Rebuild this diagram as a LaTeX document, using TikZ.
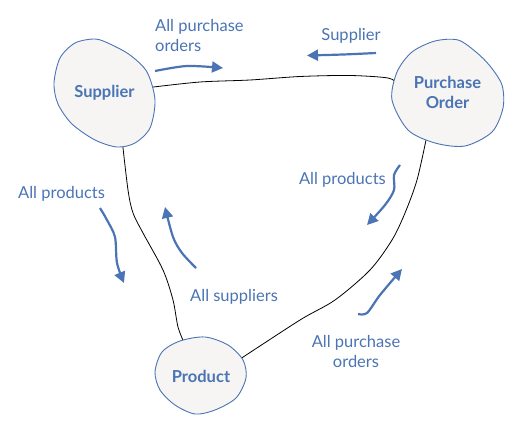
\documentclass[tikz,border=0pt]{standalone}
\usepackage{fontspec}
\setmainfont{Lato}
\usetikzlibrary{arrows.meta,backgrounds,shapes.geometric}
\definecolor{inkblue}{HTML}{4A74B4}
\definecolor{blobfill}{HTML}{F6F5F3}
\newcommand{\diagfont}{\fontsize{16.5}{20}\selectfont}
\tikzset{
	blob/.style={draw=inkblue, fill=blobfill, line width=0.9pt},
	entity/.style={ellipse, inner sep=0pt, font=\diagfont\bfseries, text=inkblue, align=center},
	link/.style={draw=black, line width=0.8pt},
	flow/.style={draw=inkblue, line width=2.2pt, -{Triangle[length=11pt,width=11pt]}},
	lbl/.style={text=inkblue, inner sep=0pt},
}

\begin{document}
\begin{tikzpicture}[x=1pt, y=-1pt, font=\diagfont]
   \useasboundingbox (0,0) rectangle (525,433);
   % entities
   \draw[blob] plot[smooth cycle] coordinates {(54,83) (60,58) (75,43) (95,39) (110,44) (130,55) (147,72) (155,100) (150,128) (135,143) (117,147) (95,140) (72,124) (58,104)};
   \node[entity, minimum width=92, minimum height=98] (sup) at (104.5,93) {Supplier};
   \draw[blob] plot[smooth cycle] coordinates {(392,100) (397,72) (412,52) (435,41) (458,40) (476,52) (490,66) (502,85) (503,108) (492,132) (465,146) (435,143) (408,130)};
   \node[entity, minimum width=102, minimum height=98] (po) at (447.5,92.5) {Purchase\\Order};
   \draw[blob] plot[smooth cycle] coordinates {(155,372) (162,352) (180,341) (205,337) (228,345) (243,360) (246,378) (236,398) (215,410) (195,414) (175,405) (160,390)};
   \node[entity, minimum width=84, minimum height=70] (prod) at (201,376) {Product};
   % links
   \begin{scope}[on background layer]
      \draw[link] plot[smooth] coordinates {(sup.7) (200,82) (250,80) (300,76.5) (350,75.5) (388,78) (po.170)};
      \draw[link] plot[smooth] coordinates {(sup.-69) (128,190) (133,213) (143,233) (163,270) (173,300) (178,327) (prod.117)};
      \draw[link] plot[smooth] coordinates {(po.-115) (417,180) (405,213) (392,240) (370,270) (335,300) (300,320) (prod.23)};
   \end{scope}
   % labels
   \node[lbl, anchor=west, align=left] (l_apo) at (155,35.5) {All purchase\\orders};
   \node[lbl] (l_sup) at (351,36) {Supplier};
   \node[lbl, anchor=east] (l_prodr) at (386,180) {All products};
   \node[lbl, anchor=west] (l_prodl) at (18,194) {All products};
   \node[lbl, anchor=west] (l_sups) at (190,297) {All suppliers};
   \node[lbl, align=center] (l_apo2) at (356,351) {All purchase\\orders};
   % flows
   \draw[flow] plot[smooth] coordinates {(155,71) (187,66) (223,68)};
   \draw[flow] plot[smooth] coordinates {(376,53) (343,54.5) (307,55.5)};
   \draw[flow] plot[smooth] coordinates {(400,165) (394,175) (394,190) (385,205) (367,225)};
   \draw[flow] plot[smooth] coordinates {(100,208) (107,220) (115,237) (117,263) (124,283)};
   \draw[flow] plot[smooth] coordinates {(196,268) (182,253) (173,237) (165,207)};
   \draw[flow] plot[smooth] coordinates {(358,314) (367,313) (380,295) (402,269)};
\end{tikzpicture}
\end{document}
